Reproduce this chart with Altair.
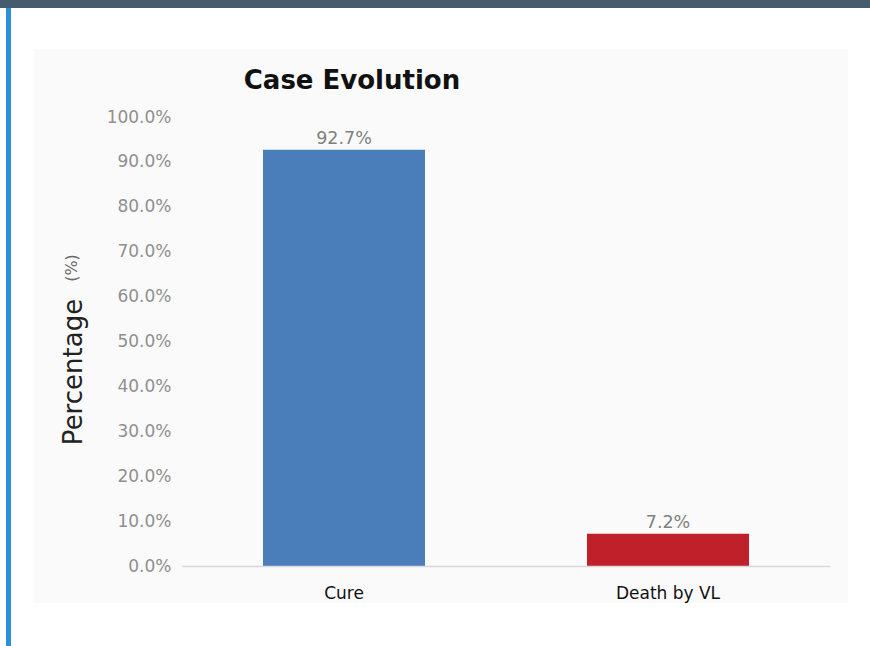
import altair as alt
import pandas as pd

# ---- data ----
categories = ["Cure", "Death by VL"]
percentages = [0.927, 0.072]
bar_colors = ["#4a7ebb", "#c0202a"]
y_ticks = [0.0, 0.1, 0.2, 0.3, 0.4, 0.5, 0.6, 0.7, 0.8, 0.9, 1.0]
title_text = "Case Evolution"
y_title_main = "Percentage"
y_title_unit = "(%)"

df = pd.DataFrame({"category": categories, "pct": percentages})

W, H = 648, 449
PAD_L, PAD_T = 182, 117
FONT = "DejaVu Sans"

one = alt.Data(values=[{}])

# decorations (page frame)
top_bar = alt.Chart(one).mark_rect(color="#475b6f").encode(
    x=alt.value(-PAD_L), x2=alt.value(870 - PAD_L),
    y=alt.value(-PAD_T), y2=alt.value(8 - PAD_T))
left_line = alt.Chart(one).mark_rect(color="#2d8fd5").encode(
    x=alt.value(6 - PAD_L), x2=alt.value(11 - PAD_L),
    y=alt.value(8 - PAD_T), y2=alt.value(646 - PAD_T))
panel = alt.Chart(one).mark_rect(color="#fafafa").encode(
    x=alt.value(34 - PAD_L), x2=alt.value(848 - PAD_L),
    y=alt.value(49 - PAD_T), y2=alt.value(603 - PAD_T))

title = alt.Chart(one).mark_text(
    text=title_text, font=FONT, fontSize=26, fontWeight="bold",
    color="#111111", align="center", baseline="alphabetic").encode(
    x=alt.value(352 - PAD_L), y=alt.value(89 - PAD_T))

ytitle_main = alt.Chart(one).mark_text(
    text=y_title_main, font=FONT, fontSize=26, angle=270,
    color="#222222", align="center", baseline="alphabetic").encode(
    x=alt.value(82 - PAD_L), y=alt.value(372 - PAD_T))
ytitle_unit = alt.Chart(one).mark_text(
    text=y_title_unit, font=FONT, fontSize=16, angle=270,
    color="#666666", align="center", baseline="alphabetic").encode(
    x=alt.value(77 - PAD_L), y=alt.value(268 - PAD_T))

x_enc = alt.X("category:N", sort=categories,
              scale=alt.Scale(paddingInner=0.5, paddingOuter=0.25),
              axis=alt.Axis(title=None, labelAngle=0, labelFont=FONT, labelFontSize=17,
                            labelColor="#111111", labelBaseline="alphabetic",
                            labelPadding=32, ticks=False, tickSize=0, domain=True,
                            domainColor="#d9d9d9", domainWidth=1.5, grid=False, zindex=1))
y_enc = alt.Y("pct:Q", scale=alt.Scale(domain=[0, 1], nice=False),
              axis=alt.Axis(title=None, values=y_ticks, format=".1%", labelFont=FONT,
                            labelFontSize=17, labelColor="#8f8f8f", labelPadding=11,
                            ticks=False, domain=False, grid=False, zindex=1))

bars = alt.Chart(df).mark_bar().encode(
    x=x_enc, y=y_enc,
    color=alt.Color("category:N", scale=alt.Scale(domain=categories, range=bar_colors),
                    legend=None))

labels = alt.Chart(df).mark_text(
    font=FONT, fontSize=17.5, color="#808080", baseline="alphabetic", dy=-6).encode(
    x=alt.X("category:N", sort=categories),
    y=alt.Y("pct:Q"),
    text=alt.Text("pct:Q", format=".1%"))

chart = alt.layer(top_bar, left_line, panel, title, ytitle_main, ytitle_unit, bars, labels).properties(
    width=W, height=H,
    autosize=alt.AutoSizeParams(type="none"),
    padding={"left": PAD_L, "top": PAD_T, "right": 870 - PAD_L - W, "bottom": 646 - PAD_T - H},
    background="white",
).configure_view(stroke=None)

chart.save("out.html", embed_options={"renderer": "svg", "actions": False})
